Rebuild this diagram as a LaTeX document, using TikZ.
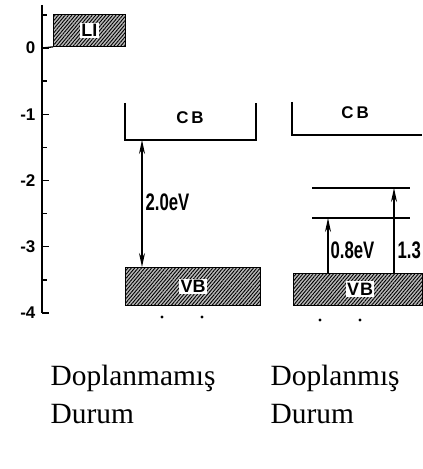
\documentclass[tikz,border=0pt]{standalone}
\usepackage{fontspec}
\setmainfont{Liberation Serif}
\setsansfont{Liberation Sans}
\newfontfamily\narrowsf[FakeStretch=0.7]{Liberation Sans}
\usetikzlibrary{patterns.meta, arrows.meta, positioning}

\begin{document}
\begin{tikzpicture}[x=1bp, y=-1bp,
    line width=1.3bp,
    band/.style={draw, preaction={fill=gray!55},
      pattern={Lines[angle=50, distance=2.6bp, line width=0.9bp]},
      inner sep=0pt, anchor=north west},
    tag/.style={fill=white, inner sep=1.5bp, font=\sffamily\bfseries\fontsize{18}{18}\selectfont},
    lbl/.style={inner sep=1bp, font=\sffamily\bfseries\fontsize{17}{17}\selectfont},
    ev/.style={inner sep=1bp, anchor=west, font=\narrowsf\bfseries\fontsize{24}{24}\selectfont},
    tick/.style={inner sep=1bp, anchor=east, font=\sffamily\bfseries\fontsize{17}{17}\selectfont},
    gap/.style={{Stealth[length=14bp,width=6bp]}-{Stealth[length=14bp,width=6bp]}},
    up/.style={-{Stealth[length=14bp,width=6bp]}},
    caption/.style={align=left, anchor=base west, inner sep=0pt,
      font=\fontsize{29.5}{38}\selectfont}
  ]
  \useasboundingbox (0,0) rectangle (422,469);

  % energy axis
  \draw (42,5) coordinate (axtop) -- (42,313) coordinate (axbot);
  \foreach \v [count=\i from 0] in {0,-1,-2,-3,-4} {
    \draw (42,{48+66.25*\i}) -- ++(7,0);
    \node[tick] at (37,{48+66.25*\i}) {\v};
  }
  \foreach \i in {-0.5,0.5,1.5,2.5,3.5}
    \draw (42,{48+66.25*\i}) -- ++(5,0);

  % Li level
  \node[band, minimum width=72bp, minimum height=32bp] (li) at (53,14) {};
  \node[tag] (litxt) at (li.center) {LI};
  \draw (42,48) -- (li.south west);

  % undoped
  \draw (125,103) -- (125,140) -- (256,140) -- (256,103);
  \node[lbl] (cbL) at (190,118) {C\kern3bp B};
  \node[band, minimum width=135bp, minimum height=38bp] (vbL) at (125,267) {};
  \node[tag] (vbLtxt) at (vbL.center) {VB};
  \coordinate (gapL) at (142,140);
  \draw[gap] (gapL) -- (gapL |- vbL.north);
  \node[ev] (eL) at (144,202) {2.0eV};
  \fill (162,317) circle[radius=1.6bp] (202,317) circle[radius=1.6bp];

  % doped
  \draw (292,102) -- (292,135) -- (422,135);
  \node[lbl] (cbR) at (355,113) {C\kern3bp B};
  \node[band, minimum width=129bp, minimum height=32bp] (vbR) at (293,273) {};
  \node[tag] (vbRtxt) at (360,289) {V\kern1bp B};
  \draw (312,188) coordinate (lvB) -- (410,188);
  \draw (312,218) coordinate (lvA) -- (410,218);
  \coordinate (accA) at (328,218);
  \coordinate (accB) at (394,188);
  \draw[up] (accA |- vbR.north) -- (accA);
  \draw[up] (accB |- vbR.north) -- (accB);
  \node[ev] (eA) at (329,250) {0.8eV};
  \node[ev] (eB) at (396,250) {1.3};
  \fill (320,320) circle[radius=1.6bp] (360,320) circle[radius=1.6bp];

  % captions
  \node[caption] (capL) at (50,423) {Doplanmamış\\Durum};
  \node[caption] (capR) at (270,423) {Doplanmış\\Durum};
\end{tikzpicture}
\end{document}
